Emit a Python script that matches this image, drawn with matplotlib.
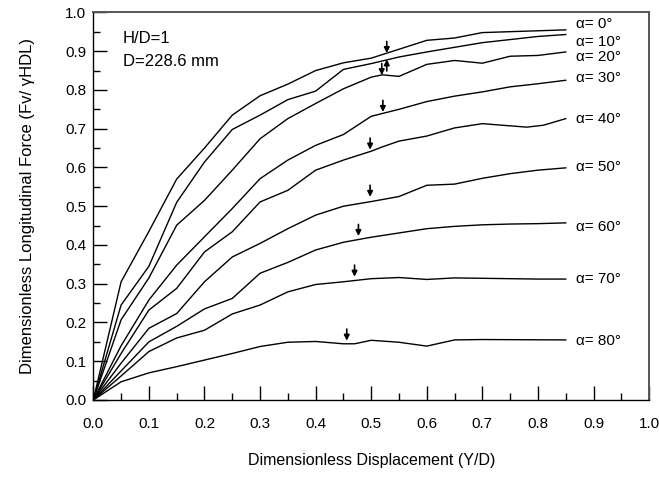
import matplotlib
matplotlib.use("Agg")
import matplotlib.pyplot as plt

plt.rcParams["font.family"] = ["Liberation Sans", "DejaVu Sans"]

# Dimensionless displacement (Y/D) grid used by most curves
X_STD = [0, 0.05, 0.1, 0.15, 0.2, 0.25, 0.3, 0.35, 0.4, 0.45,
         0.5, 0.55, 0.6, 0.65, 0.7, 0.75, 0.8, 0.85]

X_A0 = [0, 0.05, 0.1, 0.15, 0.2, 0.25, 0.3, 0.35, 0.4, 0.45, 0.5, 0.55, 0.6, 0.65, 0.7, 0.85]
Y_A0 = [0, 0.305, 0.435, 0.57, 0.65, 0.735, 0.785, 0.815, 0.85, 0.87, 0.882, 0.905, 0.928, 0.934, 0.948, 0.955]

X_A10 = [0, 0.05, 0.1, 0.15, 0.2, 0.25, 0.3, 0.35, 0.4, 0.45, 0.5, 0.55, 0.6, 0.65, 0.7, 0.8, 0.85]
Y_A10 = [0, 0.245, 0.345, 0.51, 0.614, 0.698, 0.735, 0.775, 0.797, 0.853, 0.868, 0.885, 0.898, 0.91, 0.922, 0.938, 0.943]

X_A20 = [0, 0.05, 0.1, 0.15, 0.2, 0.25, 0.3, 0.35, 0.4, 0.45, 0.5, 0.52, 0.55, 0.6, 0.65, 0.7, 0.75, 0.8, 0.85]
Y_A20 = [0, 0.207, 0.315, 0.451, 0.515, 0.593, 0.674, 0.726, 0.765, 0.803, 0.833, 0.839, 0.835, 0.866, 0.876, 0.869, 0.887, 0.889, 0.898]

Y_A30 = [0, 0.14, 0.258, 0.348, 0.421, 0.494, 0.571, 0.619, 0.657, 0.685, 0.732, 0.75, 0.77, 0.784, 0.795, 0.808, 0.816, 0.825]

X_A40 = [0, 0.05, 0.1, 0.15, 0.2, 0.25, 0.3, 0.35, 0.4, 0.45, 0.5, 0.52, 0.55, 0.6, 0.65, 0.7, 0.78, 0.81, 0.85]
Y_A40 = [0, 0.12, 0.232, 0.288, 0.382, 0.434, 0.511, 0.541, 0.593, 0.619, 0.642, 0.653, 0.668, 0.681, 0.702, 0.713, 0.704, 0.709, 0.726]

Y_A50 = [0, 0.095, 0.185, 0.223, 0.305, 0.369, 0.404, 0.442, 0.477, 0.5, 0.512, 0.525, 0.554, 0.557, 0.572, 0.584, 0.593, 0.599]
Y_A60 = [0, 0.075, 0.15, 0.19, 0.235, 0.262, 0.327, 0.355, 0.387, 0.407, 0.42, 0.431, 0.442, 0.448, 0.452, 0.454, 0.455, 0.457]
Y_A70 = [0, 0.062, 0.125, 0.16, 0.18, 0.222, 0.245, 0.279, 0.298, 0.305, 0.313, 0.316, 0.311, 0.315, 0.314, 0.313, 0.312, 0.312]

X_A80 = [0, 0.05, 0.1, 0.15, 0.2, 0.25, 0.3, 0.35, 0.4, 0.45, 0.47, 0.5, 0.55, 0.6, 0.65, 0.7, 0.85]
Y_A80 = [0, 0.047, 0.07, 0.086, 0.103, 0.12, 0.138, 0.149, 0.151, 0.145, 0.145, 0.154, 0.149, 0.139, 0.155, 0.156, 0.155]

CURVES = [(X_A0, Y_A0), (X_A10, Y_A10), (X_A20, Y_A20), (X_STD, Y_A30),
          (X_A40, Y_A40), (X_STD, Y_A50), (X_STD, Y_A60), (X_STD, Y_A70),
          (X_A80, Y_A80)]

LABELS = ["α= 0°", "α= 10°", "α= 20°", "α= 30°", "α= 40°",
          "α= 50°", "α= 60°", "α= 70°", "α= 80°"]
LABEL_Y = [0.969, 0.923, 0.885, 0.832, 0.726, 0.600, 0.447, 0.313, 0.152]

# peak markers: x, tip y, direction (-1 = down arrow, +1 = up arrow)
PEAK_X = [0.528, 0.528, 0.519, 0.521, 0.498, 0.498, 0.477, 0.470, 0.456]
PEAK_Y = [0.895, 0.879, 0.838, 0.743, 0.646, 0.524, 0.423, 0.318, 0.153]
PEAK_DIR = [-1, 1, -1, -1, -1, -1, -1, -1, -1]

fig = plt.figure(figsize=(6.59, 4.78), dpi=100)
ax = fig.add_axes([0.1416, 0.1632, 0.8434, 0.8108])

for xs, ys in CURVES:
    ax.plot(xs, ys, color="black", lw=1.0)

for lab, ly in zip(LABELS, LABEL_Y):
    ax.text(0.868, ly, lab, fontsize=11, ha="left", va="center")

for px, py, d in zip(PEAK_X, PEAK_Y, PEAK_DIR):
    ax.annotate("", xy=(px, py), xytext=(px, py - d * 0.03),
                arrowprops=dict(arrowstyle="-|>", color="black", lw=1.2,
                                mutation_scale=8, shrinkA=0, shrinkB=0))

ax.text(0.053, 0.932, "H/D=1", fontsize=12, ha="left", va="center")
ax.text(0.053, 0.874, "D=228.6 mm", fontsize=12, ha="left", va="center")

ax.set_xlim(0, 1.0)
ax.set_ylim(0, 1.0)
ax.set_xticks([i / 10 for i in range(11)])
ax.set_yticks([i / 10 for i in range(11)])
ax.set_xticks([i / 20 for i in range(1, 20, 2)], minor=True)
ax.set_yticks([i / 20 for i in range(1, 20, 2)], minor=True)
ax.xaxis.set_major_formatter(matplotlib.ticker.FormatStrFormatter("%.1f"))
ax.yaxis.set_major_formatter(matplotlib.ticker.FormatStrFormatter("%.1f"))
ax.tick_params(axis="both", which="both", direction="in", colors="black",
               labelsize=11, width=1.0)
ax.tick_params(axis="both", which="major", length=10)
ax.tick_params(axis="both", which="minor", length=5)
ax.tick_params(axis="x", which="major", pad=12)
ax.tick_params(axis="y", which="major", pad=5)

for side in ["left", "bottom"]:
    ax.spines[side].set_color("black")
    ax.spines[side].set_linewidth(1.0)
for side in ["top", "right"]:
    ax.spines[side].set_color("#555555")
    ax.spines[side].set_linewidth(1.4)

ax.set_xlabel("Dimensionless Displacement (Y/D)", fontsize=11.5, labelpad=16)
ax.set_ylabel("Dimensionless Longitudinal Force (Fv/ γHDL)", fontsize=12, labelpad=22)

fig.savefig("out.png", dpi=100)
